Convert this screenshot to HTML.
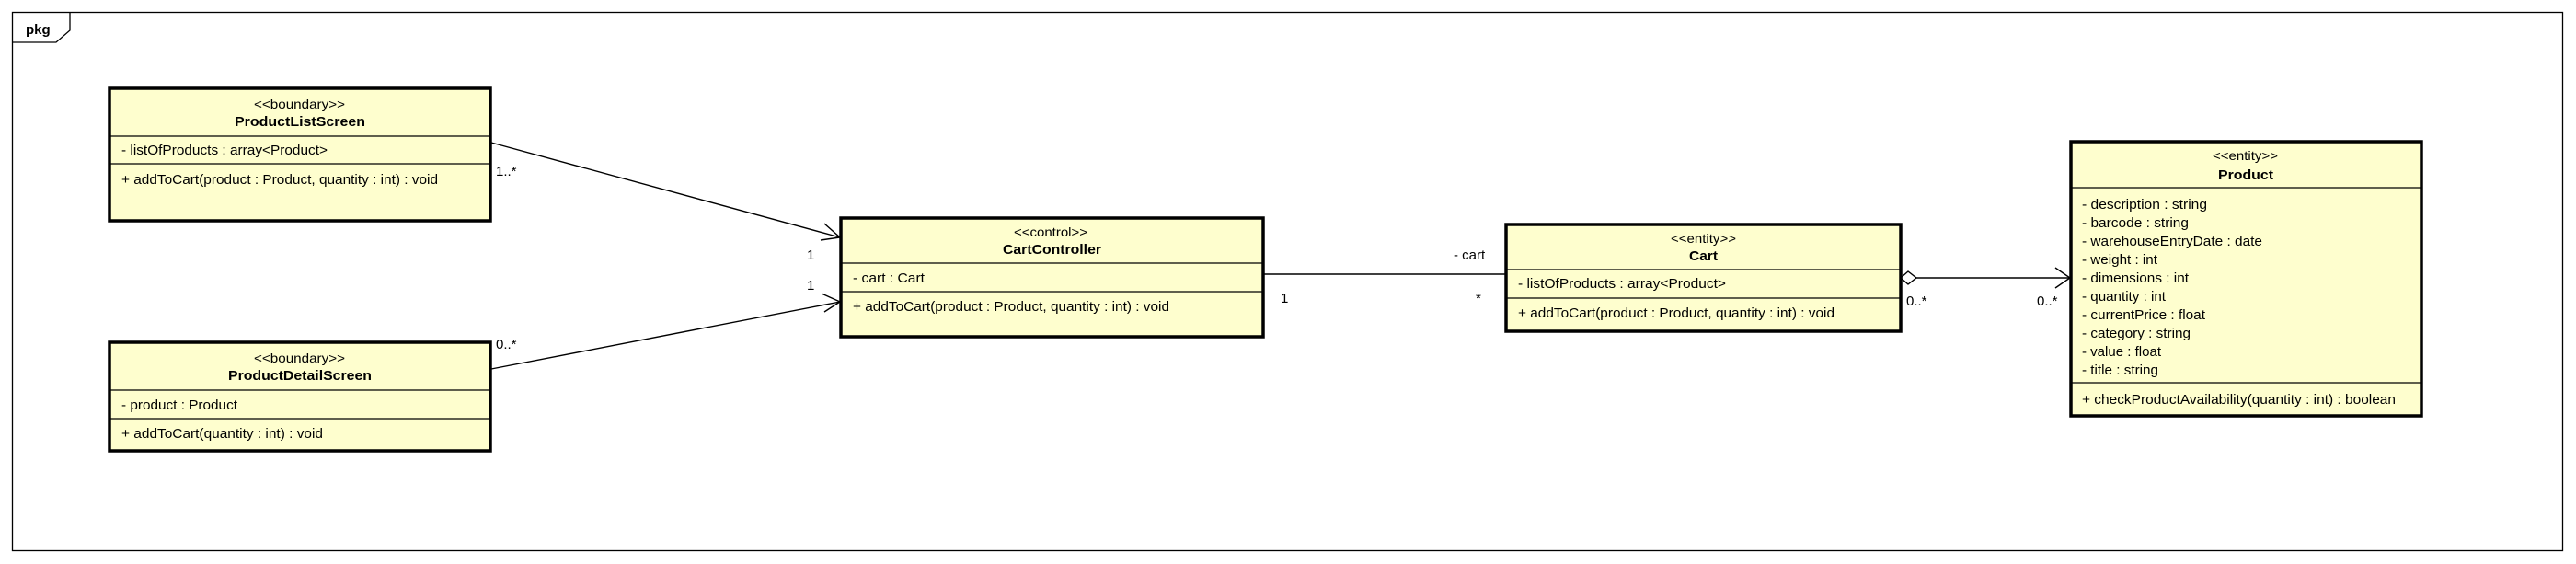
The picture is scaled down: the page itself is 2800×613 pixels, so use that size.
<!DOCTYPE html>
<html><head><meta charset="utf-8"><style>
html,body{margin:0;padding:0;background:#fff;}
svg{display:block;}
text{font-family:"Liberation Sans",Arial,sans-serif;fill:#000;}
.s{font-size:14px;}
.n{font-size:15px;font-weight:bold;}
.t{font-size:15px;}
.box{fill:#fefece;stroke:#000;stroke-width:3.5;}
.sep{stroke:#000;stroke-width:1.3;}
.ln{stroke:#000;stroke-width:1.4;fill:none;}
</style></head><body>
<svg width="2800" height="613" viewBox="0 0 2800 613" xmlns="http://www.w3.org/2000/svg">
<rect x="0" y="0" width="2800" height="613" fill="#fff"/>
<!-- frame -->
<rect x="13.5" y="13.5" width="2772" height="585" fill="none" stroke="#000" stroke-width="1.3"/>
<polyline points="13.5,46 61,46 76,33 76,13.5" fill="none" stroke="#000" stroke-width="1.3"/>
<text x="28" y="37" style="font-size:15px;font-weight:bold">pkg</text>

<!-- connectors -->
<line class="ln" x1="534" y1="155" x2="913" y2="258"/>
<polyline class="ln" points="896,243 913,258 892,261"/>
<line class="ln" x1="534" y1="401" x2="913" y2="328"/>
<polyline class="ln" points="893,319 913,328 896,339"/>
<line class="ln" x1="1373" y1="298" x2="1636" y2="298"/>
<line class="ln" x1="2083" y1="302" x2="2250" y2="302"/>
<polygon points="2066,302 2074,295 2083,302 2074,309" fill="#fff" stroke="#000" stroke-width="1.4"/>
<polyline class="ln" points="2234,291 2250,302 2234,313"/>

<text class="t" x="539" y="191">1..*</text>
<text class="t" x="539" y="379">0..*</text>
<text class="t" x="877" y="282">1</text>
<text class="t" x="877" y="315">1</text>
<text class="t" x="1580" y="282">- cart</text>
<text class="t" x="1392" y="329">1</text>
<text class="t" x="1604" y="329">*</text>
<text class="t" x="2072" y="332">0..*</text>
<text class="t" x="2214" y="332">0..*</text>

<!-- ProductListScreen -->
<rect class="box" x="119" y="96" width="414" height="144"/>
<line class="sep" x1="119" y1="148" x2="533" y2="148"/>
<line class="sep" x1="119" y1="178" x2="533" y2="178"/>
<text class="s" x="276" y="118" textLength="99" lengthAdjust="spacingAndGlyphs">&lt;&lt;boundary&gt;&gt;</text>
<text class="n" x="255" y="137" textLength="142" lengthAdjust="spacingAndGlyphs">ProductListScreen</text>
<text class="t" x="132" y="168" textLength="224" lengthAdjust="spacingAndGlyphs">- listOfProducts : array&lt;Product&gt;</text>
<text class="t" x="132" y="200" textLength="344" lengthAdjust="spacingAndGlyphs">+ addToCart(product : Product, quantity : int) : void</text>

<!-- ProductDetailScreen -->
<rect class="box" x="119" y="372" width="414" height="118"/>
<line class="sep" x1="119" y1="424" x2="533" y2="424"/>
<line class="sep" x1="119" y1="455" x2="533" y2="455"/>
<text class="s" x="276" y="394" textLength="99" lengthAdjust="spacingAndGlyphs">&lt;&lt;boundary&gt;&gt;</text>
<text class="n" x="248" y="413" textLength="156" lengthAdjust="spacingAndGlyphs">ProductDetailScreen</text>
<text class="t" x="132" y="445" textLength="126" lengthAdjust="spacingAndGlyphs">- product : Product</text>
<text class="t" x="132" y="476" textLength="219" lengthAdjust="spacingAndGlyphs">+ addToCart(quantity : int) : void</text>

<!-- CartController -->
<rect class="box" x="914" y="237" width="459" height="129"/>
<line class="sep" x1="914" y1="286" x2="1373" y2="286"/>
<line class="sep" x1="914" y1="317" x2="1373" y2="317"/>
<text class="s" x="1102" y="257" textLength="80" lengthAdjust="spacingAndGlyphs">&lt;&lt;control&gt;&gt;</text>
<text class="n" x="1090" y="276" textLength="107" lengthAdjust="spacingAndGlyphs">CartController</text>
<text class="t" x="927" y="307" textLength="78" lengthAdjust="spacingAndGlyphs">- cart : Cart</text>
<text class="t" x="927" y="338" textLength="344" lengthAdjust="spacingAndGlyphs">+ addToCart(product : Product, quantity : int) : void</text>

<!-- Cart -->
<rect class="box" x="1637" y="244" width="429" height="116"/>
<line class="sep" x1="1637" y1="293" x2="2066" y2="293"/>
<line class="sep" x1="1637" y1="324" x2="2066" y2="324"/>
<text class="s" x="1816" y="264" textLength="71" lengthAdjust="spacingAndGlyphs">&lt;&lt;entity&gt;&gt;</text>
<text class="n" x="1836" y="283" textLength="31" lengthAdjust="spacingAndGlyphs">Cart</text>
<text class="t" x="1650" y="313" textLength="226" lengthAdjust="spacingAndGlyphs">- listOfProducts : array&lt;Product&gt;</text>
<text class="t" x="1650" y="345" textLength="344" lengthAdjust="spacingAndGlyphs">+ addToCart(product : Product, quantity : int) : void</text>

<!-- Product -->
<rect class="box" x="2251" y="154" width="381" height="298"/>
<line class="sep" x1="2251" y1="204" x2="2632" y2="204"/>
<line class="sep" x1="2251" y1="416" x2="2632" y2="416"/>
<text class="s" x="2405" y="174" textLength="71" lengthAdjust="spacingAndGlyphs">&lt;&lt;entity&gt;&gt;</text>
<text class="n" x="2411" y="195" textLength="60" lengthAdjust="spacingAndGlyphs">Product</text>
<text class="t" x="2263" y="227" textLength="136" lengthAdjust="spacingAndGlyphs">- description : string</text>
<text class="t" x="2263" y="247" textLength="116" lengthAdjust="spacingAndGlyphs">- barcode : string</text>
<text class="t" x="2263" y="267" textLength="196" lengthAdjust="spacingAndGlyphs">- warehouseEntryDate : date</text>
<text class="t" x="2263" y="287" textLength="82" lengthAdjust="spacingAndGlyphs">- weight : int</text>
<text class="t" x="2263" y="307" textLength="116" lengthAdjust="spacingAndGlyphs">- dimensions : int</text>
<text class="t" x="2263" y="327" textLength="91" lengthAdjust="spacingAndGlyphs">- quantity : int</text>
<text class="t" x="2263" y="347" textLength="134" lengthAdjust="spacingAndGlyphs">- currentPrice : float</text>
<text class="t" x="2263" y="367" textLength="118" lengthAdjust="spacingAndGlyphs">- category : string</text>
<text class="t" x="2263" y="387" textLength="86" lengthAdjust="spacingAndGlyphs">- value : float</text>
<text class="t" x="2263" y="407" textLength="83" lengthAdjust="spacingAndGlyphs">- title : string</text>
<text class="t" x="2263" y="439" textLength="341" lengthAdjust="spacingAndGlyphs">+ checkProductAvailability(quantity : int) : boolean</text>
</svg>
</body></html>
